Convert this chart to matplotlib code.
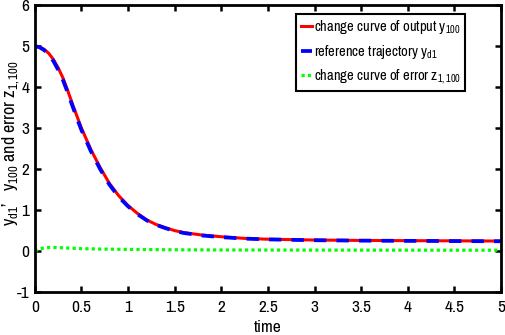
import matplotlib.pyplot as plt
from matplotlib import font_manager

# data
t = [0, 0.05, 0.1, 0.15, 0.2, 0.25, 0.3, 0.35, 0.4, 0.45, 0.5, 0.6, 0.7, 0.8, 0.9,
     1.0, 1.1, 1.2, 1.3, 1.4, 1.5, 1.6, 1.8, 2.0, 2.25, 2.5, 3.0, 3.5, 4.0, 4.5, 5.0]
y_100 = [5.0, 4.98, 4.92, 4.82, 4.67, 4.47, 4.23, 3.93, 3.61, 3.30, 3.00, 2.48, 2.04, 1.65, 1.35,
         1.11, 0.92, 0.76, 0.65, 0.57, 0.50, 0.45, 0.39, 0.35, 0.31, 0.29, 0.27, 0.26, 0.255, 0.25, 0.245]
y_d1 = [5.0, 4.97, 4.90, 4.79, 4.63, 4.42, 4.18, 3.88, 3.56, 3.25, 2.95, 2.44, 2.00, 1.62, 1.32,
        1.09, 0.90, 0.75, 0.64, 0.56, 0.49, 0.44, 0.38, 0.34, 0.305, 0.285, 0.265, 0.255, 0.25, 0.245, 0.24]
z_1100 = [0.0, 0.05, 0.08, 0.09, 0.09, 0.085, 0.08, 0.075, 0.07, 0.065, 0.06, 0.055, 0.05, 0.047, 0.044,
          0.042, 0.04, 0.038, 0.036, 0.034, 0.032, 0.031, 0.03, 0.028, 0.027, 0.026, 0.025, 0.024, 0.023, 0.022, 0.022]

names = {f.name for f in font_manager.fontManager.ttflist}
fam = 'Archivo Narrow' if 'Archivo Narrow' in names else 'Liberation Sans'
plt.rcParams['font.family'] = [fam, 'DejaVu Sans']
plt.rcParams['mathtext.fontset'] = 'custom'
plt.rcParams['mathtext.rm'] = fam
plt.rcParams['mathtext.it'] = fam
plt.rcParams['axes.unicode_minus'] = False

fig = plt.figure(figsize=(5.05, 3.35), dpi=100)
ax = fig.add_axes([0.069, 0.128, 0.923, 0.857])

ax.plot(t, y_100, color='#ff0000', lw=2.2, label='change curve of output y$_{100}$')
ax.plot(t, y_d1, color='#0000ff', lw=2.7, ls=(0, (3.3, 2.7)), label='reference trajectory y$_{d1}$')
ax.plot(t, z_1100, color='#00ff00', lw=2.3, ls=(0, (1, 1)), label='change curve of error z$_{1,100}$')

ax.set_xlim(0, 5)
ax.set_ylim(-1, 6)
ax.set_xticks([0, 0.5, 1, 1.5, 2, 2.5, 3, 3.5, 4, 4.5, 5])
ax.set_xticklabels(['0', '0.5', '1', '1.5', '2', '2.5', '3', '3.5', '4', '4.5', '5'])
ax.set_yticks(range(-1, 7))
ax.tick_params(direction='in', top=True, right=True, length=4, width=1.8, labelsize=12.5)
ax.tick_params(axis='x', pad=6)
ax.tick_params(axis='y', pad=4)
for s in ax.spines.values():
    s.set_linewidth(2)

ax.set_xlabel('time', fontsize=12.5, labelpad=3)
ax.set_ylabel('y$_{d1}$’   y$_{100}$ and error z$_{1,100}$', fontsize=13)
ax.yaxis.set_label_coords(-0.029, 0.52)

leg = ax.legend(loc='upper right', bbox_to_anchor=(0.923, 0.969), fontsize=10.5, handlelength=0.8,
                handletextpad=0.1, borderpad=0.3, labelspacing=0.45, fancybox=False,
                framealpha=1, edgecolor='black', borderaxespad=0)
leg.get_frame().set_linewidth(1.5)

fig.savefig('out.png', dpi=100)
